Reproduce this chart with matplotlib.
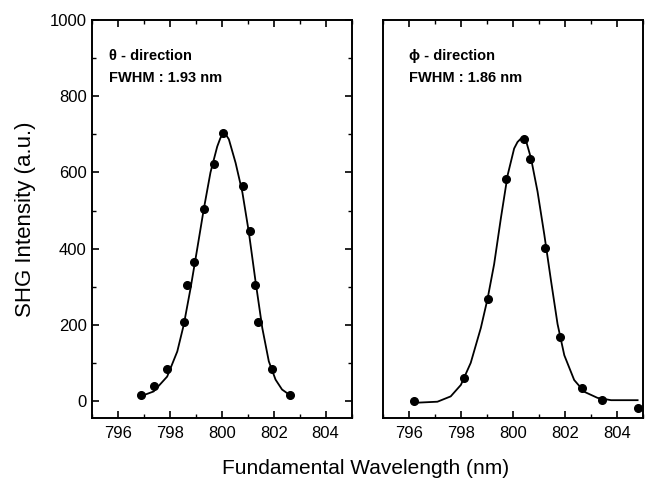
import matplotlib.pyplot as plt
from matplotlib.ticker import MultipleLocator

plt.rcParams['font.family'] = ['Liberation Sans', 'DejaVu Sans']

theta_wl = [796.89, 797.37, 797.89, 798.53, 798.66, 798.92, 799.30, 799.69,
            800.05, 800.81, 801.07, 801.26, 801.39, 801.92, 802.63]
theta_shg = [15, 40, 85, 207, 305, 365, 503, 623, 703, 564, 445, 305, 207, 85, 15]
theta_fit_wl = [796.86, 797.37, 797.89, 798.28, 798.53, 798.79, 799.05, 799.30,
                799.56, 799.82, 799.94, 800.05, 800.15, 800.27, 800.53, 800.79,
                801.04, 801.30, 801.56, 801.81, 802.07, 802.32, 802.63]
theta_fit = [12, 25, 64, 130, 200, 295, 400, 503, 600, 668, 690, 702, 700, 687,
             625, 548, 443, 313, 191, 104, 56, 30, 15]

# phi-direction
phi_wl = [796.17, 798.12, 799.02, 799.74, 800.43, 800.65, 801.24, 801.82,
          802.64, 803.41, 804.82]
phi_shg = [0, 60, 269, 584, 689, 635, 402, 168, 35, 3, -19]
phi_fit_wl = [796.17, 797.09, 797.60, 797.99, 798.37, 798.76, 799.02, 799.27,
              799.53, 799.79, 800.04, 800.17, 800.30, 800.40, 800.49, 800.69,
              800.94, 801.20, 801.46, 801.71, 801.97, 802.35, 802.74, 803.25,
              803.77, 804.79]
phi_fit = [-5, -2, 12, 42, 100, 192, 269, 359, 480, 593, 663, 680, 689, 690,
           685, 637, 550, 437, 315, 202, 120, 55, 24, 8, 2, 2]

fig = plt.figure(figsize=(6.45, 4.8), dpi=100)
ax1 = fig.add_axes([0.143, 0.129, 0.402, 0.829])
ax2 = fig.add_axes([0.594, 0.129, 0.403, 0.829])

for ax, wl, shg, fwl, fit in [(ax1, theta_wl, theta_shg, theta_fit_wl, theta_fit),
                              (ax2, phi_wl, phi_shg, phi_fit_wl, phi_fit)]:
    ax.plot(fwl, fit, color='black', linewidth=1.3)
    ax.plot(wl, shg, 'o', color='black', markersize=5.5)
    ax.set_xlim(795, 805)
    ax.set_ylim(-45, 1000)
    ax.xaxis.set_major_locator(MultipleLocator(2))
    ax.xaxis.set_minor_locator(MultipleLocator(1))
    for s in ax.spines.values():
        s.set_linewidth(1.4)
    ax.tick_params(axis='x', which='both', direction='in', top=True, labelsize=12)
    ax.tick_params(axis='x', which='major', length=5, width=1.2, pad=6)
    ax.tick_params(axis='x', which='minor', length=3, width=1)

ax1.yaxis.set_major_locator(MultipleLocator(200))
ax1.yaxis.set_minor_locator(MultipleLocator(100))
ax1.tick_params(axis='y', which='both', direction='in', right=True, labelsize=12)
ax1.tick_params(axis='y', which='major', length=5, width=1.2, pad=4)
ax1.tick_params(axis='y', which='minor', length=3, width=1)
ax2.set_yticks([])

ax1.text(795.63, 905, 'θ - direction', fontsize=10.5, fontweight='bold', va='center')
ax1.text(795.63, 847, 'FWHM : 1.93 nm', fontsize=10.5, fontweight='bold', va='center')
ax2.text(796.0, 905, 'ϕ - direction', fontsize=10.5, fontweight='bold', va='center')
ax2.text(796.0, 847, 'FWHM : 1.86 nm', fontsize=10.5, fontweight='bold', va='center')

ax1.set_ylabel('SHG Intensity (a.u.)', fontsize=16, labelpad=10)
fig.text(0.566, 0.0125, 'Fundamental Wavelength (nm)', fontsize=15,
         ha='center', va='baseline')

plt.savefig('out.png', dpi=100, facecolor='white')
